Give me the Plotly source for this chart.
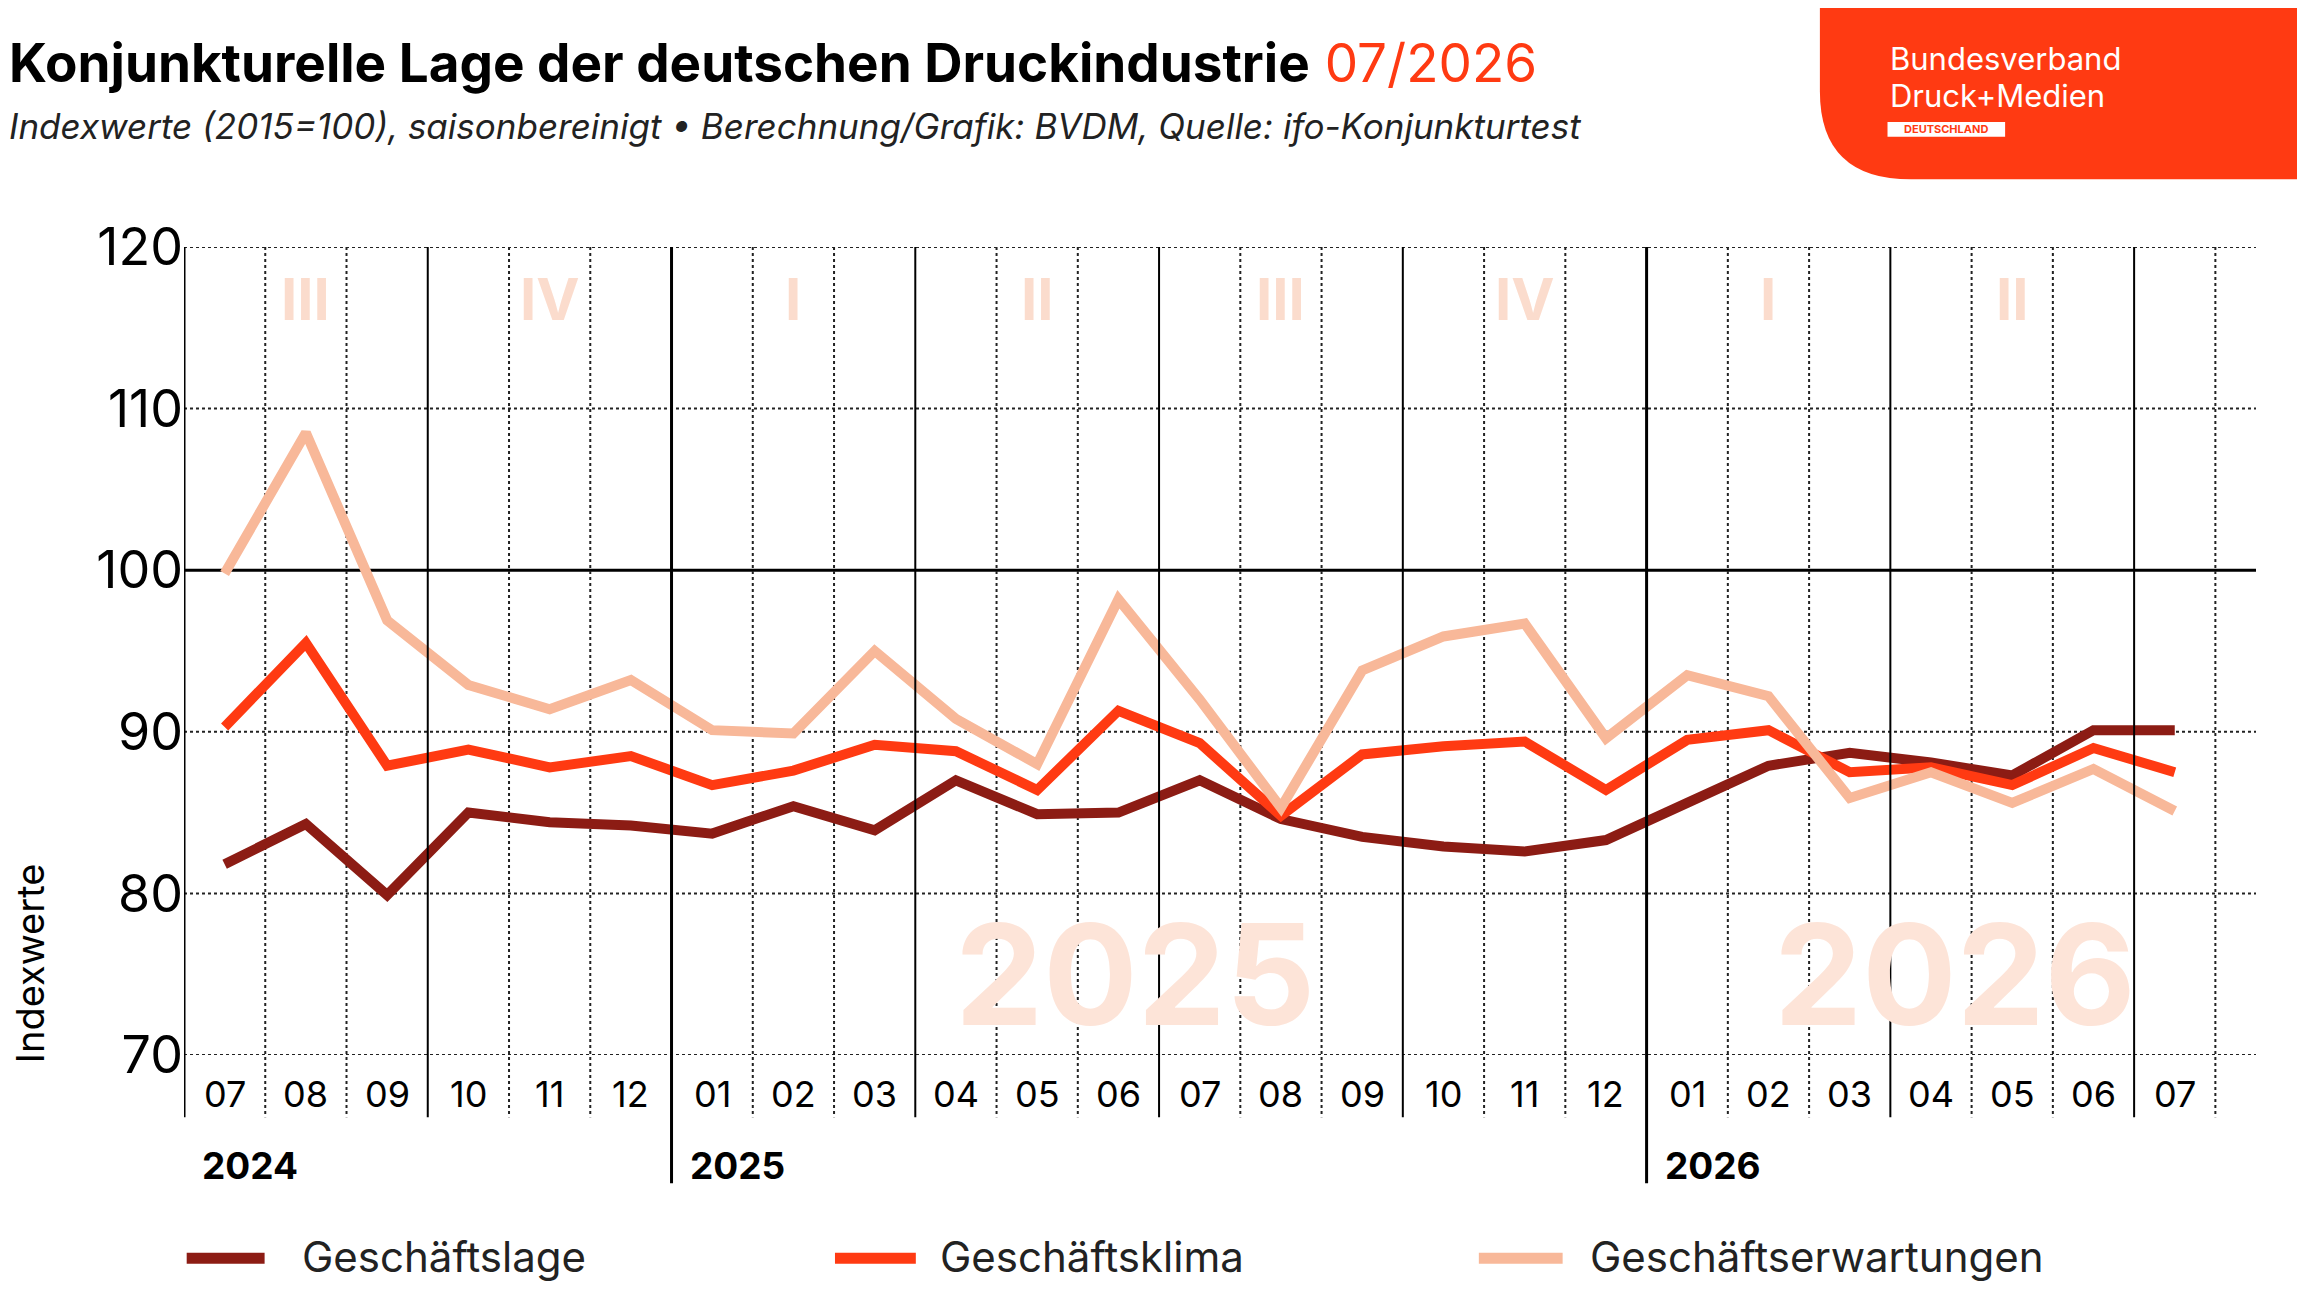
import plotly.graph_objects as go

months = ["07", "08", "09", "10", "11", "12", "01", "02", "03", "04", "05", "06",
          "07", "08", "09", "10", "11", "12", "01", "02", "03", "04", "05", "06", "07"]
lage = [81.8, 84.3, 79.9, 85.0, 84.4, 84.2, 83.7, 85.4, 83.9, 87.0, 84.9, 85.0,
        87.0, 84.6, 83.5, 82.9, 82.6, 83.3, 85.6, 87.9, 88.7, 88.1, 87.3, 90.1, 90.1]
klima = [90.3, 95.5, 87.9, 88.9, 87.8, 88.5, 86.7, 87.6, 89.2, 88.8, 86.4, 91.3,
         89.3, 84.8, 88.6, 89.1, 89.4, 86.4, 89.5, 90.1, 87.5, 87.8, 86.7, 89.0, 87.5]
erwart = [99.8, 108.5, 96.9, 92.9, 91.4, 93.2, 90.1, 89.9, 95.0, 90.8, 88.0, 98.2,
          92.0, 85.3, 93.8, 95.9, 96.7, 89.6, 93.5, 92.2, 85.9, 87.5, 85.6, 87.7, 85.1]
quarters = ["III", "IV", "I", "II", "III", "IV", "I", "II"]
years = ["2024", "2025", "2026"]
year_start = [0, 6, 18]
series = [("Geschäftslage", lage, "#8c1c14"),
          ("Geschäftsklima", klima, "#ff3a12"),
          ("Geschäftserwartungen", erwart, "#f8b899")]

S = 2305 / 1568
OFF = 8  # page offset of the figure in the browser
W, H = 2305, 1297
L, R, T, B = 184 - OFF, 2256 - OFF, 247 - OFF, 1055 - OFF
FONT = "Inter"


def px(x):
    return (x * S - OFF - L) / (R - L)


def py(y):
    return 1 - (y * S - OFF - T) / (B - T)


def txt(x, y, text, size, color="black", xanchor="center", xref="paper", yref="paper", **kw):
    return dict(x=x, y=y, xref=xref, yref=yref, text=text, showarrow=False,
                xanchor=xanchor, yanchor="middle",
                font=dict(family=FONT, size=size, color=color), **kw)


x = list(range(len(months)))
fig = go.Figure()
for name, vals, col in series:
    fig.add_trace(go.Scatter(x=x, y=vals, mode="lines", name=name,
                             line=dict(color=col, width=10), showlegend=False))

shapes = []
annos = []
for v in range(70, 121, 10):
    shapes.append(dict(type="line", xref="paper", yref="y", x0=0, x1=1, y0=v, y1=v,
                       line=dict(color="black" if v == 100 else "#222", width=3 if v == 100 else 2,
                                 dash="solid" if v == 100 else "dot"), layer="below"))
for k in range(0, 26):
    xv = k - 0.5
    if k == 0 or k in (6, 18):
        shapes.append(dict(type="line", xref="x", yref="paper", x0=xv, x1=xv, y0=1,
                           y1=py(760) if k == 0 else py(805), line=dict(color="black", width=3)))
    elif k % 3 == 0:
        shapes.append(dict(type="line", xref="x", yref="paper", x0=xv, x1=xv, y0=1, y1=py(760),
                           line=dict(color="black", width=2)))
    else:
        shapes.append(dict(type="line", xref="x", yref="paper", x0=xv, x1=xv, y0=1, y1=py(760),
                           line=dict(color="#222", width=2, dash="dot"), layer="below"))

for i, q in enumerate(quarters):
    annos.append(txt(1 + 3 * i, 116.8, "<b>" + q + "</b>", 58, "#fbdccd", xref="x", yref="y"))
for yr, xc in (("2025", 11.2), ("2026", 21.3)):
    annos.append(txt(xc, 75.0, "<b>" + yr + "</b>", 140, "#fde4d8", xref="x", yref="y"))
for i, m in enumerate(months):
    annos.append(txt(i, py(744), m, 36, xref="x"))
for yr, k in zip(years, year_start):
    annos.append(txt(k - 0.3, py(793), "<b>" + yr + "</b>", 37, xanchor="left", xref="x"))
annos.append(txt(px(20), py(655), "Indexwerte", 38, textangle=-90))

for (name, vals, col), (lx0, lx1, tx) in zip(series, [(127, 180, 204), (568, 623, 638), (1006, 1063, 1080)]):
    shapes.append(dict(type="line", xref="paper", yref="paper", x0=px(lx0), x1=px(lx1),
                       y0=py(856), y1=py(856), line=dict(color=col, width=11)))
    annos.append(txt(px(tx), py(855), name, 42, "#222", xanchor="left"))

annos.append(txt(px(5), py(43), "<b>Konjunkturelle Lage der deutschen Druckindustrie</b> "
                 "<span style='color:#ff3a12'>07/2026</span>", 53, xanchor="left"))
annos.append(txt(px(5), py(86), "<i>Indexwerte (2015=100), saisonbereinigt • Berechnung/Grafik: "
                 "BVDM, Quelle: ifo-Konjunkturtest</i>", 35, "#222", xanchor="left"))
x0, x1, y0, y1 = px(1238), px(1568) + 0.02, py(0) + 0.02, py(122)
shapes.append(dict(type="path", xref="paper", yref="paper", fillcolor="#ff3a12", line=dict(width=0),
                   path=f"M {x0} {y0} L {x1} {y0} L {x1} {y1} L {px(1300)} {y1} "
                        f"Q {x0} {y1} {x0} {py(62)} Z"))
annos.append(txt(px(1284), py(40), "Bundesverband", 31, "white", xanchor="left"))
annos.append(txt(px(1284), py(65), "Druck+Medien", 31, "white", xanchor="left"))
shapes.append(dict(type="rect", xref="paper", yref="paper", x0=px(1284), x1=px(1364),
                   y0=py(83), y1=py(93), fillcolor="white", line=dict(width=0)))
annos.append(txt(px(1324), py(88), "<b>DEUTSCHLAND</b>", 11, "#ff3a12"))

fig.update_layout(
    width=W, height=H, paper_bgcolor="white", plot_bgcolor="white",
    margin=dict(l=L, r=W - R, t=T, b=H - B),
    shapes=shapes, annotations=annos,
    xaxis=dict(range=[-0.5, 25], showgrid=False, showticklabels=False, zeroline=False),
    yaxis=dict(range=[70, 120], showgrid=False, zeroline=False, tickvals=list(range(70, 121, 10)),
               tickfont=dict(family=FONT, size=52, color="black"), ticks=""),
)
fig.write_html("out.html")
